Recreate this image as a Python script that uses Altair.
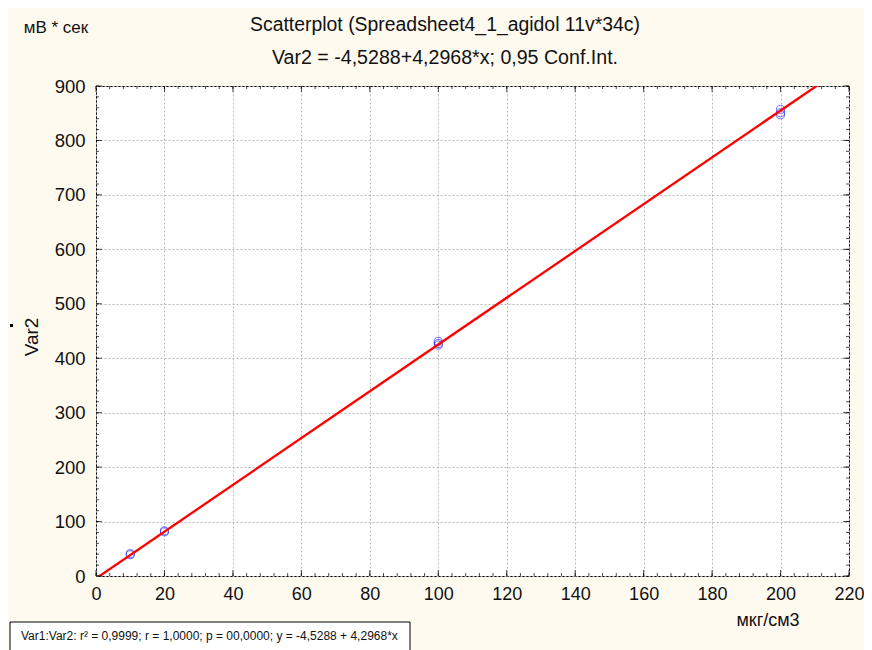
import altair as alt
import pandas as pd

# data
pt_x = [10, 10, 20, 20, 100, 100, 100, 200, 200, 200]
pt_y = [39, 41, 81, 83, 424, 427, 431, 847, 851, 857]

# fitted line y = -4.5288 + 4.2968*x, end points
line_x = [0, 220]
line_y = [-4.5288, 940.7672]

x_major = list(range(0, 221, 20))
x_minor = list(range(0, 221, 4))
y_major = list(range(0, 901, 100))
y_minor = list(range(0, 901, 20))

W, H = 753, 490
FONT = "Liberation Sans"

xs = alt.Scale(domain=[0, 220], nice=False, zero=False)
ys = alt.Scale(domain=[0, 900], nice=False, zero=False)

pts = pd.DataFrame({"x": pt_x, "y": pt_y})
ln = pd.DataFrame({"x": line_x, "y": line_y})

base_axis_x = alt.Axis(values=x_major, grid=True, gridDash=[2, 2], gridColor="#b8b8b8",
                       tickSize=0, domain=False, labelFontSize=18, labelFont=FONT,
                       labelColor="#111", labelPadding=9, title=None, labelFlush=False)
base_axis_y = alt.Axis(values=y_major, grid=True, gridDash=[2, 2], gridColor="#b8b8b8",
                       tickSize=0, domain=False, labelFontSize=18.5, labelFont=FONT,
                       labelColor="#111", labelPadding=11, title=None)

points = alt.Chart(pts).mark_point(shape="circle", filled=False, color="#2a2aff",
                                   size=65, strokeWidth=1).encode(
    x=alt.X("x:Q", scale=xs, axis=base_axis_x),
    y=alt.Y("y:Q", scale=ys, axis=base_axis_y),
)

line = alt.Chart(ln).mark_line(color="#ff0000", strokeWidth=2.3, clip=True).encode(
    x=alt.X("x:Q", scale=xs), y=alt.Y("y:Q", scale=ys)
)

def xticks(vals, size):
    d = pd.DataFrame({"v": vals})
    b = alt.Chart(d).mark_tick(orient="vertical", color="black", size=size, thickness=1)
    return [b.encode(x=alt.X("v:Q", scale=xs), y=alt.value(H - size / 2)),
            b.encode(x=alt.X("v:Q", scale=xs), y=alt.value(size / 2))]

def yticks(vals, size):
    d = pd.DataFrame({"v": vals})
    b = alt.Chart(d).mark_tick(orient="horizontal", color="black", size=size, thickness=1)
    return [b.encode(y=alt.Y("v:Q", scale=ys), x=alt.value(size / 2)),
            b.encode(y=alt.Y("v:Q", scale=ys), x=alt.value(W - size / 2))]

ticks = xticks(x_minor, 3) + xticks(x_major, 6) + yticks(y_minor, 3) + yticks(y_major, 6)

def txt(s, x, y, size=15, align="center", angle=0, font=FONT):
    kw = dict(text=s, fontSize=size, font=font, color="#111", align=align, baseline="middle")
    if angle:
        kw["angle"] = angle
    return alt.Chart(pd.DataFrame({"a": [0]})).mark_text(**kw).encode(
        x=alt.value(x), y=alt.value(y))

box = alt.Chart(pd.DataFrame({"a": [0]})).mark_rect(fill="white", stroke="black",
                                                    strokeWidth=1).encode(
    x=alt.value(-86), x2=alt.value(314), y=alt.value(536), y2=alt.value(575))

dot = alt.Chart(pd.DataFrame({"a": [0]})).mark_rect(fill="black").encode(
    x=alt.value(-86), x2=alt.value(-83), y=alt.value(238), y2=alt.value(241))

annots = [
    txt("Scatterplot (Spreadsheet4_1_agidol 11v*34c)", 349, -61, 19.4),
    txt("Var2 = -4,5288+4,2968*x; 0,95 Conf.Int.", 349, -28, 19.6),
    txt("мВ * сек", -40, -58, 17),
    txt("Var2", -64, 251, 19, angle=270),
    txt("мкг/см3", 672, 535, 18),
    box,
    txt("Var1:Var2:  r² = 0,9999;  r = 1,0000; p = 00,0000;  y = -4,5288 + 4,2968*x",
        -75, 550, 12, align="left"),
    dot,
]

chart = alt.layer(points, line, *ticks, *annots).properties(
    width=W, height=H,
    autosize=alt.AutoSizeParams(type="none"),
    padding={"left": 88, "top": 78, "right": 15, "bottom": 74},
    background="#FFFAF0",
).configure_view(stroke="black", strokeWidth=1, fill="white")

chart.save("out.html", embed_options={"renderer": "svg", "actions": False})
